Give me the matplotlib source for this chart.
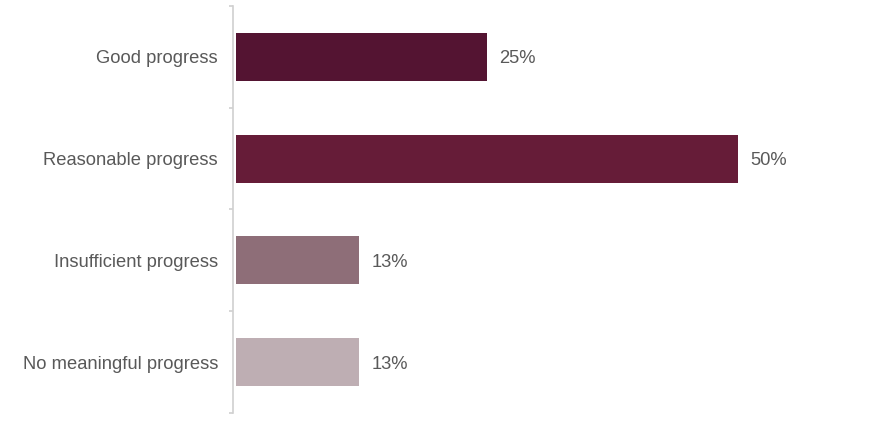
import matplotlib
matplotlib.use("Agg")
import matplotlib.pyplot as plt
from matplotlib.ticker import FixedLocator

categories = ["Good progress", "Reasonable progress", "Insufficient progress", "No meaningful progress"]
values = [25, 50, 12.3, 12.3]
value_labels = ["25%", "50%", "13%", "13%"]
colors = ["#541432", "#661c38", "#8e6e78", "#beaeb3"]

plt.rcParams['font.family'] = ['Liberation Sans', 'DejaVu Sans']
text_color = "#595959"
axis_color = "#d0d0d0"

W, H = 886, 422
fig = plt.figure(figsize=(W / 100, H / 100), dpi=100)
left_px, right_px, top_px, bottom_px = 233, 870, 6, 413
ax = fig.add_axes([left_px / W, 1 - bottom_px / H, (right_px - left_px) / W, (bottom_px - top_px) / H])

px_per_unit = 502 / 50
xmin = -3 / px_per_unit
xmax = xmin + (right_px - left_px) / px_per_unit

y = list(range(len(categories)))
ax.barh(y, values, height=0.47, color=colors, left=0)
ax.set_xlim(xmin, xmax)
ax.set_ylim(len(categories) - 0.5, -0.5)

for yi, v, lab in zip(y, values, value_labels):
    ax.annotate(lab, xy=(v, yi), xytext=(12 * 0.72, 0), textcoords="offset points",
                va="center_baseline", ha="left", fontsize=13.2, color=text_color)

for s in ["top", "right", "bottom"]:
    ax.spines[s].set_visible(False)
ax.spines["left"].set_color(axis_color)
ax.spines["left"].set_linewidth(1.2)

ax.set_xticks([])
ax.set_yticks(y)
ax.set_yticklabels(categories, fontsize=13.2, color=text_color)
ax.tick_params(axis="y", which="major", length=0, pad=15 * 0.72)
ax.yaxis.set_minor_locator(FixedLocator([i - 0.5 for i in range(len(categories) + 1)]))
ax.tick_params(axis="y", which="minor", length=4 * 0.72, width=1.2, color=axis_color)

fig.savefig("out.png", dpi=100)
